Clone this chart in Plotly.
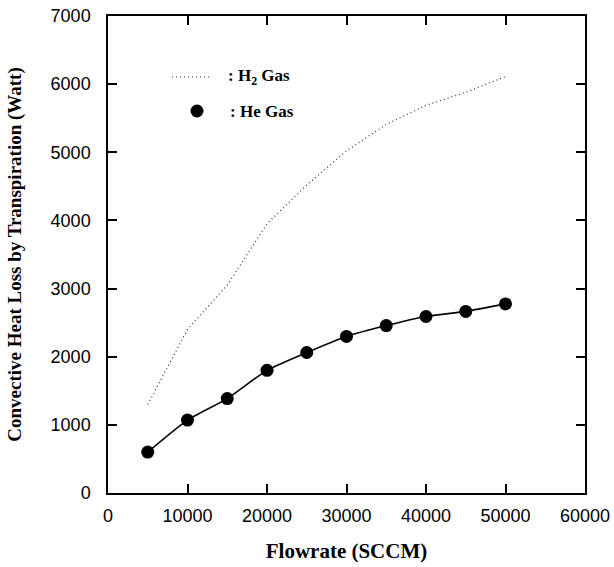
import plotly.graph_objects as go

flowrate = [5000, 10000, 15000, 20000, 25000, 30000, 35000, 40000, 45000, 50000]
h2_loss = [1300, 2400, 3050, 3950, 4520, 5020, 5410, 5690, 5880, 6110]
he_loss = [600, 1070, 1385, 1800, 2062, 2298, 2457, 2590, 2665, 2775]

x_ticks = [0, 10000, 20000, 30000, 40000, 50000, 60000]
y_ticks = [0, 1000, 2000, 3000, 4000, 5000, 6000, 7000]

W, H = 614, 567
ML, MR, MT, MB = 108, 29, 16, 74
PW, PH = W - ML - MR, H - MT - MB

def px(x):
    return (x - ML) / PW

def py(y):
    return 1 - (y - MT) / PH

fig = go.Figure()
fig.add_trace(go.Scatter(x=flowrate, y=h2_loss, mode="lines",
                         line=dict(color="#333333", width=1.2, dash="1px,3px"),
                         name="H2", showlegend=False))
fig.add_trace(go.Scatter(x=flowrate, y=he_loss, mode="lines",
                         line=dict(color="black", width=1.6, shape="spline", smoothing=0.6),
                         name="He fit", showlegend=False, hoverinfo="skip"))
fig.add_trace(go.Scatter(x=flowrate, y=he_loss, mode="markers",
                         marker=dict(color="black", size=13),
                         name="He", showlegend=False))

# legend (manual)
fig.add_shape(type="line", xref="paper", yref="paper",
              x0=px(172), x1=px(212), y0=py(77), y1=py(77),
              line=dict(color="#333333", width=1.2, dash="1px,3px"))
fig.add_shape(type="circle", xref="paper", yref="paper",
              x0=px(190.5), x1=px(203.5), y0=py(104.5), y1=py(117.5),
              fillcolor="black", line=dict(color="black", width=0))
legend_font = dict(family="Liberation Serif, Times New Roman, serif", size=17, color="black")
fig.add_annotation(xref="paper", yref="paper", x=px(226), y=py(77), xanchor="left", yanchor="middle",
                   text="<b>: H<sub>2</sub> Gas</b>", showarrow=False, font=legend_font)
fig.add_annotation(xref="paper", yref="paper", x=px(228), y=py(111), xanchor="left", yanchor="middle",
                   text="<b>: He Gas</b>", showarrow=False, font=legend_font)

tick_font = dict(family="Liberation Sans, Arial, sans-serif", size=18, color="black")
xtitle_font = dict(family="Liberation Serif, Times New Roman, serif", size=21, color="black")
ytitle_font = dict(family="Liberation Serif, Times New Roman, serif", size=19, color="black")

fig.update_xaxes(range=[0, 60000], tickvals=x_ticks, ticktext=[str(v) for v in x_ticks],
                 ticks="inside", ticklen=9, tickwidth=1.5, tickcolor="black",
                 showline=True, linecolor="black", linewidth=1.5, mirror="ticks",
                 showgrid=False, zeroline=False, tickfont=tick_font, ticklabelstandoff=6,
                 automargin=False,
                 title=dict(text="<b>Flowrate (SCCM)</b>", font=xtitle_font, standoff=18))
fig.update_yaxes(range=[0, 7000], tickvals=y_ticks, ticktext=[str(v) for v in y_ticks],
                 ticks="inside", ticklen=9, tickwidth=1.5, tickcolor="black",
                 showline=True, linecolor="black", linewidth=1.5, mirror="ticks",
                 showgrid=False, zeroline=False, tickfont=tick_font, ticklabelstandoff=12,
                 automargin=False,
                 title=dict(text="<b>Convective Heat Loss by Transpiration (Watt)</b>", font=ytitle_font, standoff=24))

fig.update_layout(width=W, height=H, margin=dict(l=ML, r=MR, t=MT, b=MB, autoexpand=False),
                  plot_bgcolor="white", paper_bgcolor="white", showlegend=False)

fig.write_html("out.html")
